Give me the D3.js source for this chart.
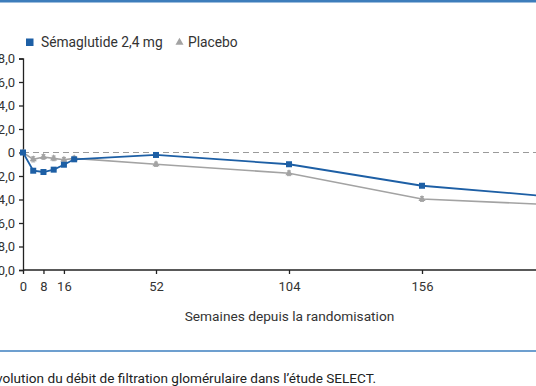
<!DOCTYPE html>
<html>
<head>
<meta charset="utf-8">
<script src="https://cdn.jsdelivr.net/npm/d3@7"></script>
<style>
  body { margin: 0; background: #fff; }
  svg { display: block; font-family: Roboto, "Noto Sans", sans-serif; }
</style>
</head>
<body>
<div class="canvas"></div>
<script>
// data
const weeks = [0, 4, 8, 12, 16, 20, 52, 104, 156, 208];
const sema = [0, -1.55, -1.66, -1.46, -1.04, -0.58, -0.21, -1.0, -2.83, -3.78];
const placebo = [0, -0.58, -0.38, -0.5, -0.62, -0.5, -1.0, -1.77, -3.96, -4.45];
const placeboErr = [0, 0.22, 0.2, 0.2, 0.2, 0.18, 0.18, 0.2, 0.2, 0.2];
const xTicks = [0, 8, 16, 52, 104, 156];
const yTicks = [8, 6, 4, 2, 0, -2, -4, -6, -8, -10];

const blue = '#1d5fa5';
const grey = '#a3a3a3';

const svg = d3.select('.canvas')
  .append('svg')
  .attr('width', 536)
  .attr('height', 386);

// frame lines top / bottom
svg.append('rect').attr('x', 0).attr('y', 0).attr('width', 536).attr('height', 2.5).attr('fill', '#3d7dbb');
svg.append('rect').attr('x', 0).attr('y', 350).attr('width', 536).attr('height', 2).attr('fill', '#6d9fcf');

const x = d3.scaleLinear().domain([0, 208]).range([23, 555]);
const y = d3.scaleLinear().domain([-10, 8]).range([270, 58.5]);

const fmt = v => v === 0 ? '0' : d3.format('.1f')(v).replace('.', ',');

const yAxis = svg.append('g')
  .attr('transform', 'translate(23,0)')
  .call(d3.axisLeft(y).tickValues(yTicks).tickFormat(fmt).tickSize(4).tickPadding(4));

const xAxis = svg.append('g')
  .attr('transform', 'translate(0,270)')
  .call(d3.axisBottom(x).tickValues(xTicks).tickSize(4).tickPadding(8));

[yAxis, xAxis].forEach(a => {
  a.select('.domain').attr('stroke', '#222').attr('stroke-width', 1.3);
  a.selectAll('.tick line').attr('stroke', '#222').attr('stroke-width', 1.3);
  a.selectAll('text').attr('fill', '#333').attr('font-size', 13).attr('font-family', 'Roboto, sans-serif');
});
xAxis.select('.domain').attr('d', 'M23,0H536');

// reference line at 0
svg.append('line')
  .attr('x1', x(0)).attr('x2', 536)
  .attr('y1', y(0)).attr('y2', y(0))
  .attr('stroke', '#9a9a9a')
  .attr('stroke-width', 1.2)
  .attr('stroke-dasharray', '6,4');

const line = d3.line().x((d, i) => x(weeks[i])).y(d => y(d));

// placebo
svg.append('path')
  .datum(placebo)
  .attr('fill', 'none')
  .attr('stroke', grey)
  .attr('stroke-width', 1.6)
  .attr('d', line);

const errs = svg.append('g').attr('stroke', grey).attr('stroke-width', 1);
placebo.forEach((v, i) => {
  if (!placeboErr[i]) return;
  const cx = x(weeks[i]);
  const y1 = y(v + placeboErr[i]), y2 = y(v - placeboErr[i]);
  errs.append('line').attr('x1', cx).attr('x2', cx).attr('y1', y1).attr('y2', y2);
  errs.append('line').attr('x1', cx - 2).attr('x2', cx + 2).attr('y1', y1).attr('y2', y1);
  errs.append('line').attr('x1', cx - 2).attr('x2', cx + 2).attr('y1', y2).attr('y2', y2);
});

const tri = d3.symbol().type(d3.symbolTriangle).size(22);
svg.append('g').selectAll('path')
  .data(placebo)
  .join('path')
  .attr('transform', (d, i) => `translate(${x(weeks[i])},${y(d)})`)
  .attr('d', tri)
  .attr('fill', grey);

// semaglutide
svg.append('path')
  .datum(sema)
  .attr('fill', 'none')
  .attr('stroke', blue)
  .attr('stroke-width', 1.8)
  .attr('d', line);

svg.append('g').selectAll('rect')
  .data(sema)
  .join('rect')
  .attr('x', (d, i) => x(weeks[i]) - 3)
  .attr('y', d => y(d) - 3)
  .attr('width', 6)
  .attr('height', 6)
  .attr('fill', blue);

// legend
const legend = svg.append('g').attr('font-size', 13.8).attr('fill', '#333');
legend.append('rect').attr('x', 26).attr('y', 38.5).attr('width', 7.5).attr('height', 7.5).attr('fill', blue);
legend.append('text').attr('x', 41).attr('y', 47).attr('fill', '#333').text('Sémaglutide 2,4 mg');
legend.append('path')
  .attr('transform', 'translate(179.5,42.5)')
  .attr('d', d3.symbol().type(d3.symbolTriangle).size(28))
  .attr('fill', grey);
legend.append('text').attr('x', 188).attr('y', 47).attr('fill', '#333').text('Placebo');

// axis title
svg.append('text')
  .attr('x', 289.5)
  .attr('y', 321)
  .attr('text-anchor', 'middle')
  .attr('font-size', 13.7)
  .attr('fill', '#333')
  .text('Semaines depuis la randomisation');

// caption
svg.append('text')
  .attr('x', 376)
  .attr('y', 383)
  .attr('text-anchor', 'end')
  .attr('font-size', 13.6)
  .attr('fill', '#222')
  .text('Évolution du débit de filtration glomérulaire dans l’étude SELECT.');
</script>
</body>
</html>
